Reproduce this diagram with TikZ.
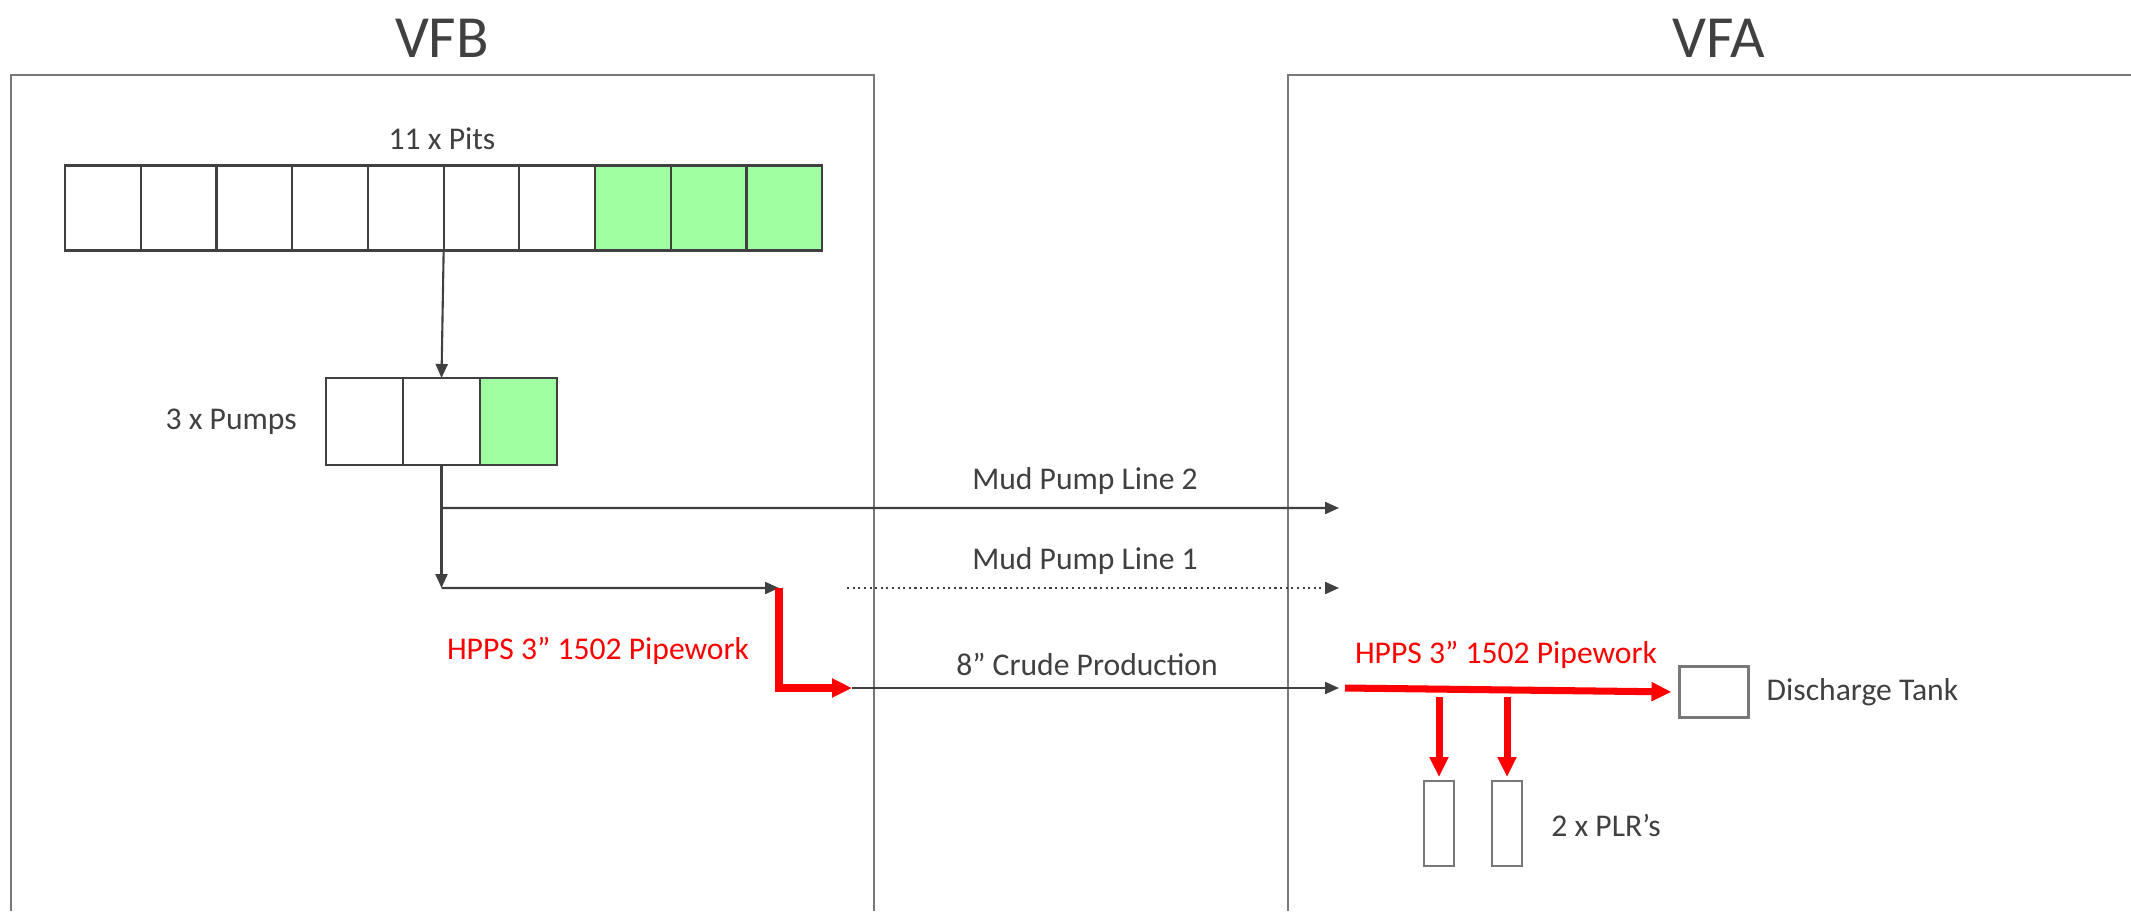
\documentclass[tikz,border=0pt]{standalone}
\usepackage{fontspec}
\setmainfont{Carlito}
\usepackage{tikz}
\usetikzlibrary{arrows.meta,positioning}
\usepackage{xcolor}
\definecolor{vfgrey}{RGB}{64,64,64}
\definecolor{vfframe}{RGB}{120,120,120}
\definecolor{vfgreen}{RGB}{160,255,160}
\definecolor{vfred}{RGB}{255,0,0}
\tikzstyle{zone} = [draw=vfframe, line width=0.6pt]
\tikzstyle{pit} = [rectangle, draw=vfgrey, line width=0.6pt, minimum width=0.757cm, minimum height=0.85cm, inner sep=0pt, outer sep=0pt]
\tikzstyle{pump} = [pit, minimum width=0.77cm, minimum height=0.87cm]
\tikzstyle{wet} = [fill=vfgreen]
\tikzstyle{vessel} = [rectangle, draw=vfframe, line width=0.6pt, inner sep=0pt, outer sep=0pt]
\tikzstyle{flow} = [-{Triangle[length=0.14cm,width=0.12cm]}, draw=vfgrey, line width=0.6pt]
\tikzstyle{pipe} = [-{Triangle[length=0.2cm,width=0.18cm]}, draw=vfred, line width=2pt]
\tikzstyle{txt} = [text=vfgrey, inner sep=1pt, font=\fontsize{9}{11}\selectfont]
\tikzstyle{redtxt} = [txt, text=vfred]
\tikzstyle{title} = [text=vfgrey, font=\fontsize{17}{20}\selectfont]

\begin{document}
\begin{tikzpicture}
\useasboundingbox (0,0) rectangle (21.31,9.11);
% Two sites
\draw[zone] (0.11,0) -- (0.11,8.36) -- (8.74,8.36) -- (8.74,0);
\draw[zone] (12.88,0) -- (12.88,8.36) -- (21.31,8.36);
\node[title] (vfb) at (4.42,8.73) {VFB};
\node[title] (vfa) at (17.19,8.73) {VFA};

% Pits
\node[txt] (pitsLabel) at (4.42,7.72) {11 x Pits};
\node[pit] (pit1) at (1.03,7.03) {};
\foreach \i [remember=\i as \j (initially 1)] in {2,...,10}{
  \ifnum\i>7
    \node[pit, wet, right=0pt of pit\j] (pit\i) {};
  \else
    \node[pit, right=0pt of pit\j] (pit\i) {};
  \fi
}

% Pumps
\node[pump] (pump1) at (3.645,4.895) {};
\node[pump, right=0pt of pump1] (pump2) {};
\node[pump, wet, right=0pt of pump2] (pump3) {};
\node[txt, left=0.25cm of pump1] (pumpsLabel) {3 x Pumps};
\draw[flow] (pit5.south east) -- (pump2.north);

% Mud pump lines
\path (pump2.south) ++(0,-0.43) coordinate (tee2) ++(0,-0.80) coordinate (tee1);
\coordinate (bend1) at (7.79,3.23);
\coordinate (dot1) at (8.47,3.23);
\coordinate (vfa2) at (13.39,4.03);
\coordinate (vfa1) at (13.39,3.23);
\draw[flow] (pump2.south) -- (tee1);
\draw[flow] (tee2) -- (vfa2);
\draw[flow] (tee1) -- (bend1);
\draw[flow, densely dotted] (dot1) -- (vfa1);
\node[txt] (line2Label) at (10.85,4.30) {Mud Pump Line 2};
\node[txt] (line1Label) at (10.85,3.50) {Mud Pump Line 1};

% Crude production
\coordinate (crude0) at (8.52,2.23);
\coordinate (vfa0) at (13.39,2.23);
\coordinate (hpps) at (13.45,2.23);
\draw[pipe] (bend1) -- (bend1 |- crude0) -- (crude0);
\draw[flow] (crude0) -- (vfa0);
\node[txt] (crudeLabel) at (10.87,2.47) {8” Crude Production};
\node[redtxt] (hppsLeft) at (5.98,2.60) {HPPS 3” 1502 Pipework};

% VFA side
\node[vessel, minimum width=0.69cm, minimum height=0.51cm] (tank) at (17.14,2.19) {};
\node[txt, right=0.14cm of tank] (tankLabel) {Discharge Tank};
\node[vessel, minimum width=0.30cm, minimum height=0.85cm] (plr1) at (14.39,0.875) {};
\node[vessel, minimum width=0.30cm, minimum height=0.85cm] (plr2) at (15.07,0.875) {};
\node[txt] (plrLabel) at (16.06,0.86) {2 x PLR’s};
\draw[pipe, shorten >=0.08cm] (hpps) -- (tank.west);
\draw[pipe, shorten <=0.09cm, shorten >=0.04cm] (plr1 |- hpps) -- (plr1.north);
\draw[pipe, shorten <=0.09cm, shorten >=0.04cm] (plr2 |- hpps) -- (plr2.north);
\node[redtxt] (hppsRight) at (15.06,2.56) {HPPS 3” 1502 Pipework};
\end{tikzpicture}
\end{document}
